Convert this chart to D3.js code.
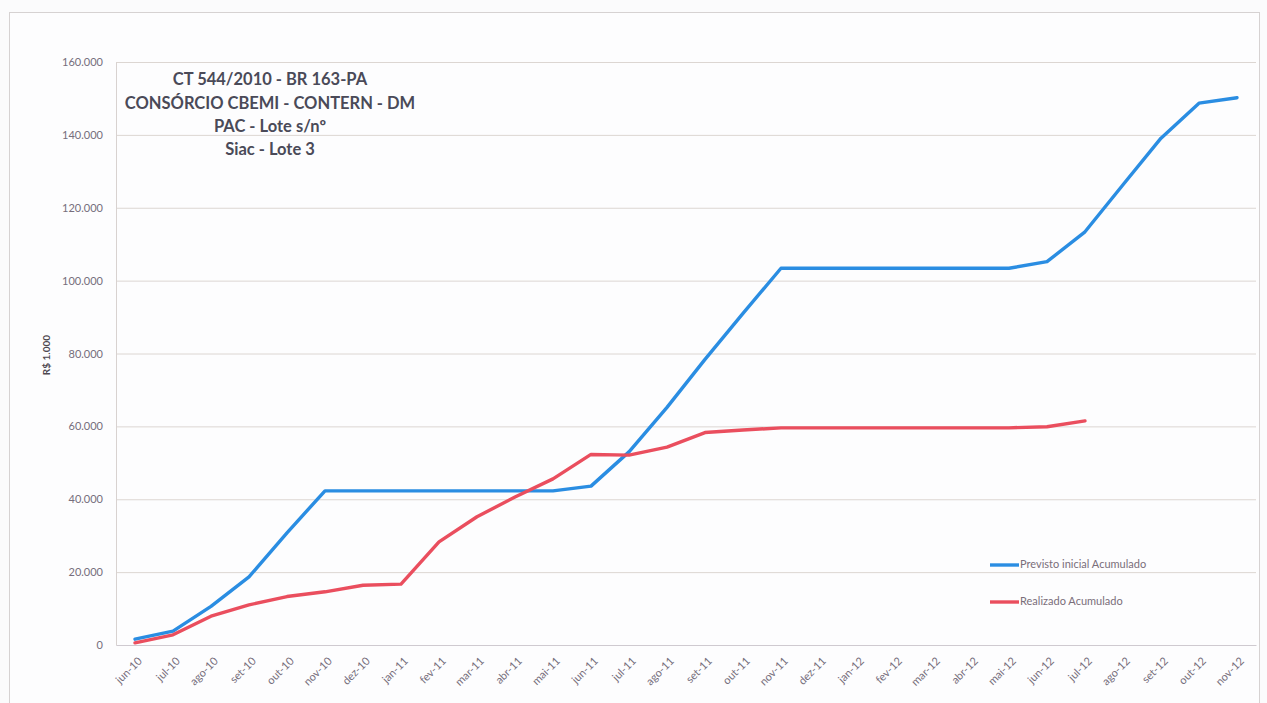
<!DOCTYPE html>
<html><head><meta charset="utf-8">
<script src="https://cdn.jsdelivr.net/npm/d3@7"></script>
<style>
html,body{margin:0;padding:0;background:#fff;}
svg{display:block;}
</style></head>
<body>
<svg id="c" width="1267" height="703"></svg>
<script>
const months = ["jun-10","jul-10","ago-10","set-10","out-10","nov-10","dez-10",
 "jan-11","fev-11","mar-11","abr-11","mai-11","jun-11","jul-11","ago-11","set-11","out-11","nov-11","dez-11",
 "jan-12","fev-12","mar-12","abr-12","mai-12","jun-12","jul-12","ago-12","set-12","out-12","nov-12"];
const previsto = [1600,3800,10600,18700,30800,42300,42300,42300,42300,42300,42300,42300,43600,53000,65200,78400,91000,103400,103400,103400,103400,103400,103400,103400,105200,113400,126300,139100,148700,150200];
const realizado = [600,2800,7900,11000,13300,14600,16400,16700,28300,35200,40600,45600,52300,52100,54300,58300,59000,59600,59600,59600,59600,59600,59600,59600,59900,61500];
const yTicks = [0,20000,40000,60000,80000,100000,120000,140000,160000];
const titleLines = ["CT 544/2010 - BR 163-PA","CONSÓRCIO CBEMI - CONTERN - DM","PAC - Lote s/nº","Siac - Lote 3"];
const seriesNames = ["Previsto inicial Acumulado","Realizado Acumulado"];
const colors = ["#2a8de2","#ea4e5e"];
const yLabel = "R$ 1.000";

const svg = d3.select("#c");
svg.append("rect").attr("x",0).attr("y",0).attr("width",1267).attr("height",703).attr("fill","#fbfbfc");
svg.append("rect").attr("x",9.5).attr("y",12.5).attr("width",1250).attr("height",700)
  .attr("fill","#fdfdfe").attr("stroke","#d6d2d2").attr("stroke-width",1);

const L=116,R=1256,T=62,B=645;
const x = d3.scaleBand().domain(months).range([L,R]).padding(0);
const y = d3.scaleLinear().domain([0,160000]).range([B,T]);
const fmt = v => d3.format(",")(v).replace(/,/g,".");

// gridlines
svg.append("g").selectAll("line").data(yTicks.filter(d=>d>0)).join("line")
  .attr("x1",L).attr("x2",R).attr("y1",d=>y(d)+0.5).attr("y2",d=>y(d)+0.5)
  .attr("stroke","#dcd6d2").attr("stroke-width",1);

// y axis
const ya = svg.append("g").attr("transform",`translate(${L},0)`)
  .call(d3.axisLeft(y).tickValues(yTicks).tickFormat(fmt).tickSize(0).tickPadding(13));
ya.select(".domain").attr("stroke","#d8d2d0");
ya.selectAll("text").attr("fill","#766e7c").style("font-family","Lato, 'Open Sans', sans-serif").style("font-size","11px");

// x axis
const xa = svg.append("g").attr("transform",`translate(0,${B})`)
  .call(d3.axisBottom(x).tickSize(0).tickPadding(6));
xa.select(".domain").attr("stroke","#cfcad0");
xa.selectAll(".tick text").attr("fill","#766e7c").style("font-family","Lato, 'Open Sans', sans-serif").style("font-size","11px")
  .attr("text-anchor","end").attr("x",5).attr("y",14).attr("dy","0.35em")
  .attr("transform","rotate(-45 5 14)");

// y label
svg.append("text").attr("transform","translate(47,355) rotate(-90)").attr("text-anchor","middle")
  .attr("dominant-baseline","middle")
  .attr("fill","#4e4850").style("font-family","Lato, sans-serif").style("font-size","10px").style("font-weight","bold").text(yLabel);

// lines
const line = d3.line().x((d,i)=>x(months[i])+x.bandwidth()/2).y(d=>y(d));
[previsto,realizado].forEach((s,k)=>{
  svg.append("path").datum(s).attr("d",line).attr("fill","none")
    .attr("stroke",colors[k]).attr("stroke-width",3.4).attr("stroke-linejoin","round").attr("stroke-linecap","round");
});

// title
svg.append("g").selectAll("text").data(titleLines).join("text")
  .attr("x",270).attr("y",(d,i)=>81+i*23.3).attr("text-anchor","middle").attr("dominant-baseline","middle")
  .attr("fill","#4a4a58").style("font-family","Lato, sans-serif").style("font-size","16.5px").style("font-weight","bold")
  .text(d=>d);

// legend
const leg = svg.append("g");
[565,602].forEach((ly,k)=>{
  leg.append("line").attr("x1",990).attr("x2",1019).attr("y1",ly).attr("y2",ly)
    .attr("stroke",colors[k]).attr("stroke-width",3.4);
  leg.append("text").attr("x",1020).attr("y",ly).attr("dominant-baseline","middle")
    .attr("fill","#7a6e7a").style("font-family","Lato, sans-serif").style("font-size","11px").text(seriesNames[k]);
});
</script>
</body></html>
